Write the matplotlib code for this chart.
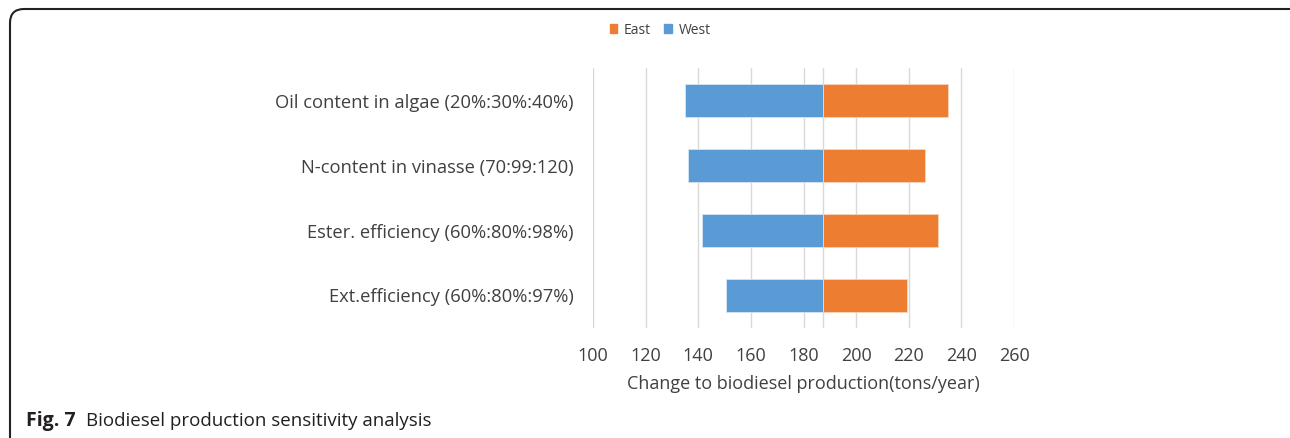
import matplotlib
matplotlib.use("Agg")
import matplotlib.pyplot as plt
from matplotlib.patches import FancyBboxPatch, Patch

categories = ["Oil content in algae (20%:30%:40%)",
              "N-content in vinasse (70:99:120)",
              "Ester. efficiency (60%:80%:98%)",
              "Ext.efficiency (60%:80%:97%)"]
base = 187.6
west = [135.0, 136.0, 141.4, 150.4]
east = [235.0, 226.0, 231.0, 219.3]
xticks = [100, 120, 140, 160, 180, 200, 220, 240, 260]

plt.rcParams['font.family'] = ['Open Sans', 'DejaVu Sans']

W, H = 1290, 438
fig = plt.figure(figsize=(W / 100, H / 100), dpi=100)
ax = fig.add_axes([593 / W, 1 - 328 / H, 421 / W, 260 / H])

ypos = list(range(len(categories)))
blue = '#5B9BD5'
orange = '#ED7D31'
ax.barh(ypos, [w - base for w in west], left=base, height=0.5, color=blue,
        edgecolor='#D6E4F2', linewidth=0.6, zorder=3)
ax.barh(ypos, [e - base for e in east], left=base, height=0.5, color=orange,
        edgecolor='#F8D4BD', linewidth=0.6, zorder=3)

ax.set_xlim(100, 260)
ax.set_ylim(len(categories) - 0.5, -0.5)
ax.set_xticks(xticks)
ax.set_yticks(ypos)
ax.set_yticklabels(categories, fontsize=13.2, color='#404040')
ax.tick_params(axis='y', length=0, pad=14)
ax.tick_params(axis='x', length=0, pad=14, labelsize=13, labelcolor='#404040')
ax.grid(axis='x', color='#D9D9D9', linewidth=1.0, zorder=0)
ax.axvline(base, color='#D9D9D9', linewidth=1.0, zorder=1)
for s in ax.spines.values():
    s.set_visible(False)
ax.set_xlabel("Change to biodiesel production(tons/year)", fontsize=13,
              color='#404040', labelpad=7)

handles = [Patch(color=orange, label='East'), Patch(color=blue, label='West')]
fig.legend(handles=handles, loc='center', bbox_to_anchor=(660 / W, 1 - 30 / H),
           ncol=2, frameon=False, fontsize=10, handlelength=0.55, handleheight=0.55,
           handletextpad=0.45, columnspacing=1.0, labelcolor='#404040')

border = FancyBboxPatch((10, -40), 1295, H - 9 + 40, boxstyle="round,pad=0,rounding_size=14",
                        transform=None, fill=False, edgecolor='#222222', linewidth=1.5,
                        clip_on=False)
fig.patches.append(border)

fig.text(26 / W, 1 - 421 / H, "Fig. 7", fontsize=14, fontweight='bold',
         color='#231F20', va='center', ha='left')
fig.text(86 / W, 1 - 421 / H, "Biodiesel production sensitivity analysis", fontsize=13.5,
         color='#231F20', va='center', ha='left')

fig.savefig("out.png", dpi=100)
